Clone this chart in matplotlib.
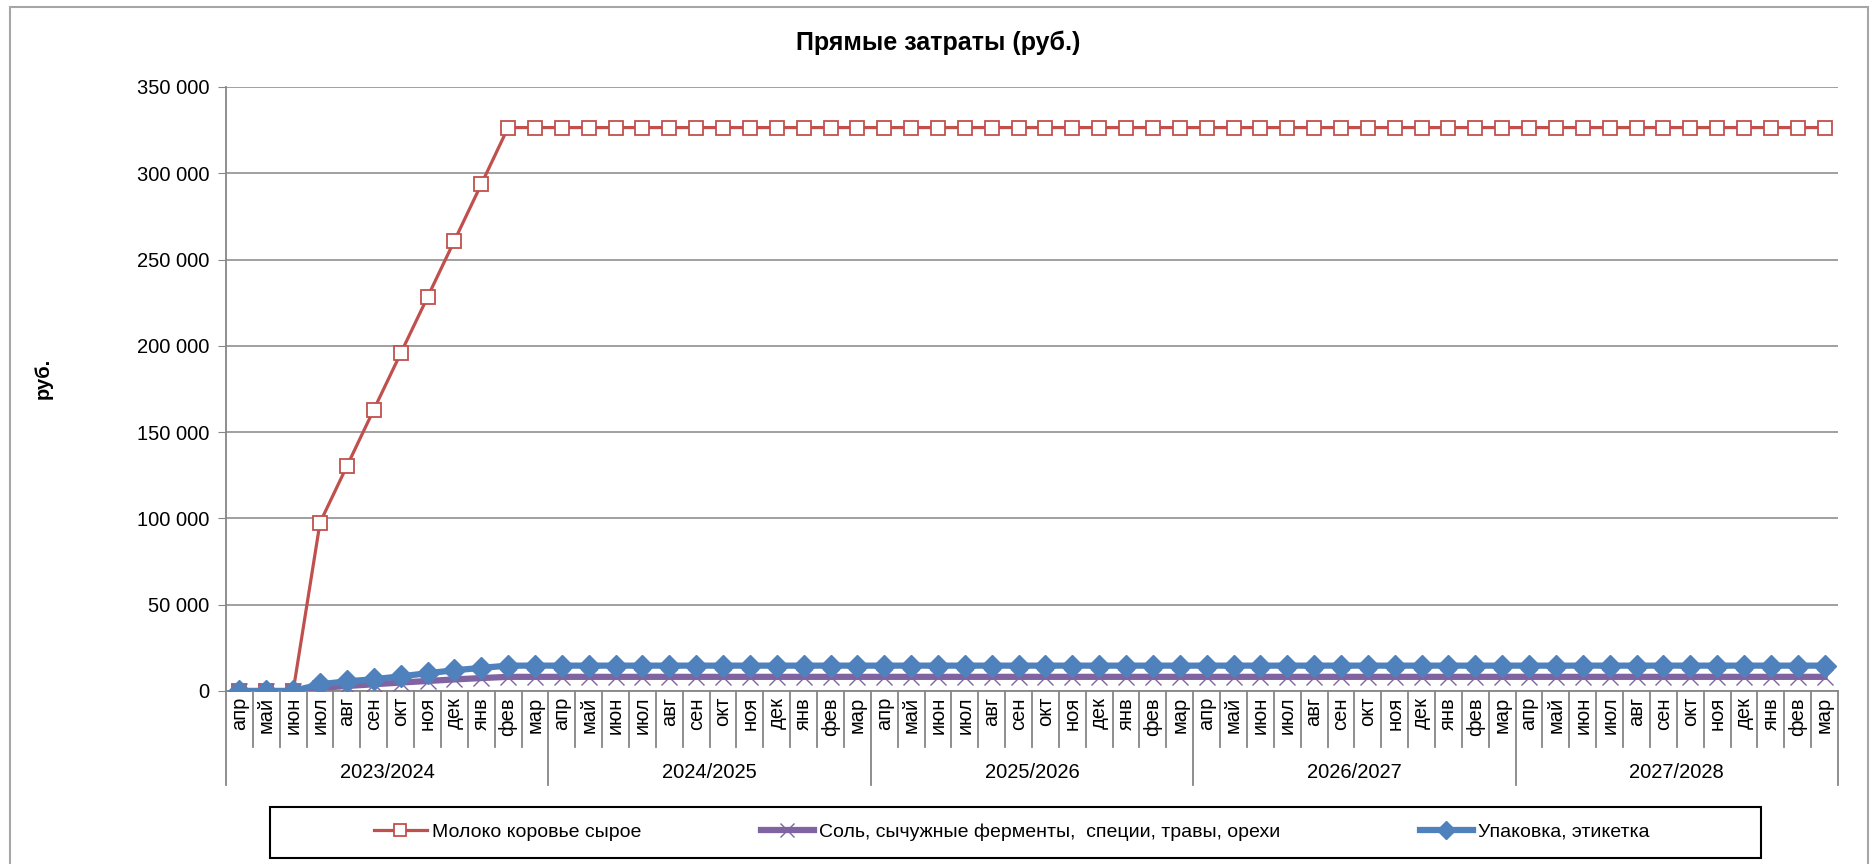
import matplotlib
matplotlib.use("Agg")

import matplotlib.pyplot as plt
import matplotlib.patches as patches
import matplotlib.ticker as mticker
import matplotlib.transforms as mtransforms
from matplotlib.lines import Line2D

plt.rcParams["font.family"] = ["Liberation Sans", "DejaVu Sans"]

# ========= данные =========
months = ["апр", "май", "июн", "июл", "авг", "сен", "окт", "ноя", "дек", "янв", "фев", "мар"]
years = ["2023/2024", "2024/2025", "2025/2026", "2026/2027", "2027/2028"]

milk_first = [0, 0, 0, 97600, 130300, 163000, 195600, 228200, 260900, 293600, 326500, 326500]
salt_first = [0, 0, 0, 1800, 2900, 3900, 4900, 5800, 6700, 7500, 8200, 8200]
pack_first = [0, 0, 0, 3900, 5600, 6800, 8500, 10300, 12000, 13400, 14700, 14700]

milk_flat = 326500
salt_flat = 8200
pack_flat = 14700

milk = milk_first + [milk_flat] * 48
salt = salt_first + [salt_flat] * 48
pack = pack_first + [pack_flat] * 48

labels = months * len(years)
n = len(labels)
x = list(range(n))

W, H = 1873, 864

# ========= рисунок =========
fig = plt.figure(figsize=(W / 100, H / 100), dpi=100)
ax = fig.add_axes([226 / W, 1 - 691 / H, (1838 - 226) / W, (691 - 87) / H])

l1, = ax.plot(x, milk, color="#C0504D", lw=2.3, marker="s", ms=10, mfc="white",
              mec="#C0504D", mew=1.3, label="Молоко коровье сырое", zorder=3)
l2, = ax.plot(x, salt, color="#8064A2", lw=4.5, marker="x", ms=12, mec="#8064A2",
              mew=1.0, label="Соль, сычужные ферменты,  специи, травы, орехи", zorder=4)
l3, = ax.plot(x, pack, color="#4F81BD", lw=4.5, marker="D", ms=11.5, mfc="#4F81BD",
              mec="#4F81BD", label="Упаковка, этикетка", zorder=5)

ax.set_xlim(-0.5, n - 0.5)
ax.set_ylim(0, 350000)
ax.yaxis.set_major_locator(mticker.MultipleLocator(50000))
ax.yaxis.set_major_formatter(mticker.FuncFormatter(lambda v, p: f"{int(v):,}".replace(",", " ")))
ax.tick_params(axis="y", labelsize=14.5, length=6, color="#868686", pad=6)
ax.grid(axis="y", color="#868686", lw=1.1)
ax.set_axisbelow(True)

for s in ["top", "right"]:
    ax.spines[s].set_visible(False)
for s in ["left", "bottom"]:
    ax.spines[s].set_color("#868686")
    ax.spines[s].set_linewidth(1.3)

# подписи категорий (месяцы + годы)
ax.set_xticks([])
trans = mtransforms.blended_transform_factory(ax.transData, ax.transAxes)
px = 1.0 / (691 - 87)
for i in range(n + 1):
    b = i - 0.5
    is_year = (i % 12 == 0)
    y_end = -(785 - 691) * px if is_year else -(747 - 691) * px
    ax.plot([b, b], [0, y_end], transform=trans, color="#868686", lw=1.3, clip_on=False)
for i, lab in enumerate(labels):
    ax.text(i, -6 * px, lab, transform=trans, rotation=90, ha="center", va="top",
            fontsize=14.5)
for k, yr in enumerate(years):
    ax.text(k * 12 + 5.5, -(773 - 691) * px, yr, transform=trans, ha="center",
            va="center", fontsize=14.5)

fig.text(938 / W, 1 - 43 / H, "Прямые затраты (руб.)", ha="center", va="center",
         fontsize=18, fontweight="bold")
fig.text(43 / W, 1 - 378 / H, "руб.", ha="center", va="center", rotation=90,
         fontsize=14.5, fontweight="bold")

# легенда: рамка + три элемента
fig.patches.append(patches.Rectangle((270 / W, 1 - 858 / H), (1761 - 270) / W, (858 - 807) / H,
                                     transform=fig.transFigure, fill=False,
                                     edgecolor="black", lw=1.5))
leg_x = [374, 761, 1420]
for line, lx in zip([l1, l2, l3], leg_x):
    h = Line2D([], [], color=line.get_color(), lw=line.get_linewidth(),
               marker=line.get_marker(), ms=line.get_markersize() * 0.8,
               mfc=line.get_markerfacecolor(), mec=line.get_markeredgecolor(),
               mew=line.get_markeredgewidth())
    lg = fig.legend([h], [line.get_label()], loc="center left",
                    bbox_to_anchor=(lx / W, 1 - 832 / H), frameon=False,
                    fontsize=14, handlelength=2.7, handletextpad=0.3,
                    borderpad=0, borderaxespad=0)

fig.patches.append(patches.Rectangle((10 / W, 1 - 870 / H), (1868 - 10) / W, (870 - 7) / H,
                                     transform=fig.transFigure, fill=False,
                                     edgecolor="#A6A6A6", lw=1.5, clip_on=False))

fig.savefig("out.png", dpi=100)
